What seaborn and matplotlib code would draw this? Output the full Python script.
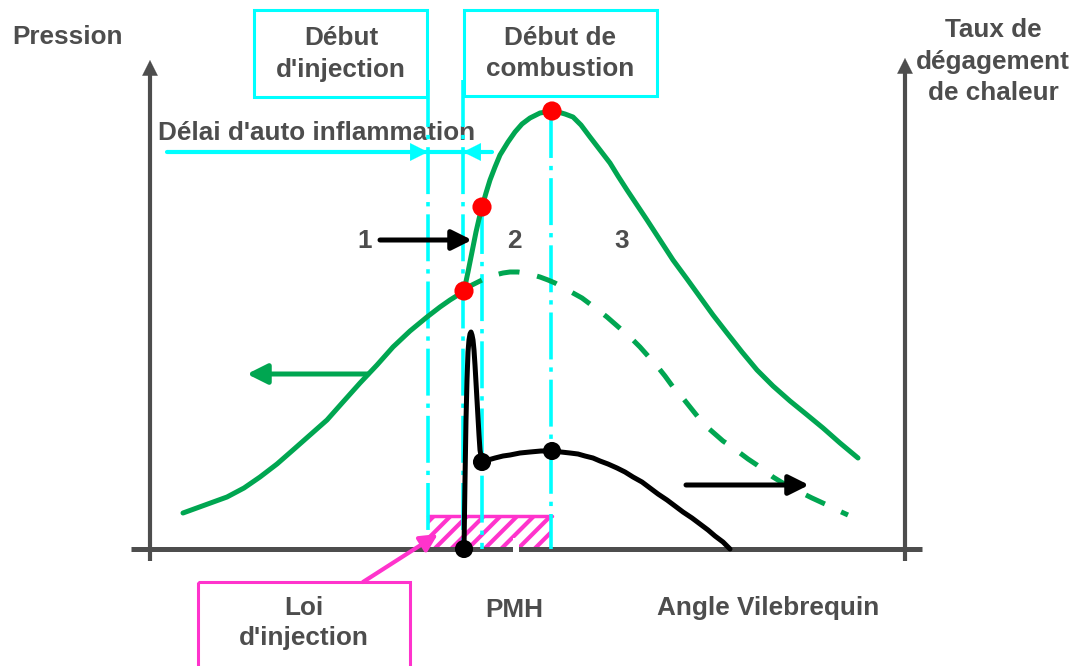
import numpy as np
import pandas as pd
import matplotlib
matplotlib.use("Agg")
import matplotlib.pyplot as plt
from matplotlib.patches import Rectangle
import seaborn as sns

# ---------------- data (schematic, pixel units) ----------------
# pressure with combustion (solid green)
press_x = [183, 205, 227, 244, 260, 277, 293, 310, 327, 343, 360, 377, 393, 410, 427, 440, 450, 458, 464,
           468, 472, 476, 479, 482, 486, 490, 495, 500, 508, 515, 522, 530, 540, 546, 552,
           558, 565, 573, 581, 590, 600, 610, 618, 627, 637, 647, 660, 673, 687, 700, 713, 727, 742, 757,
           773, 790, 806, 823, 840, 858]
press_y = [513, 505, 497, 488, 477, 464, 450, 435, 420, 402, 383, 365, 347, 331, 317, 307, 300, 295, 291,
           272, 252, 232, 219, 207, 193, 180, 167, 155, 142, 132, 124, 118, 113, 112, 111,
           112, 114, 117, 125, 137, 150, 163, 176, 190, 205, 220, 240, 260, 279, 297, 315, 333, 352, 370,
           386, 401, 414, 428, 443, 458]
# motored pressure (dashed green)
motor_x = [464, 472, 480, 488, 495, 503, 510, 518, 525, 533, 540, 548, 555, 564, 573, 582, 590, 598, 607,
           615, 623, 632, 640, 648, 657, 665, 673, 682, 690, 698, 707, 715, 723, 732, 740, 748, 757, 765,
           773, 786, 800, 812, 825, 837, 848]
motor_y = [291, 285, 281, 277, 275, 273, 272, 272, 273, 275, 277, 280, 283, 288, 293, 298, 304, 310, 317,
           324, 331, 339, 347, 356, 366, 376, 387, 397, 407, 417, 427, 434, 441, 447, 453, 459, 465, 471,
           477, 485, 492, 498, 504, 510, 515]
# heat release rate (black)
heat_x = [464, 465, 466, 467, 468, 469, 470, 471, 472, 473, 474, 475, 477, 479, 480, 482, 488, 495, 503,
          510, 520, 530, 541, 552, 561, 570, 578, 585, 593, 600, 608, 617, 625, 633, 642, 650, 658, 667,
          675, 683, 692, 700, 708, 715, 723, 730]
heat_y = [549, 480, 420, 380, 352, 340, 334, 332, 335, 340, 350, 365, 400, 435, 450, 462, 460, 458, 456,
          455, 453, 452, 451, 451, 452, 453, 454, 456, 458, 461, 464, 468, 472, 477, 482, 488, 494, 500,
          506, 512, 518, 524, 530, 536, 542, 549]
# key points
red_x = [464, 482, 552]
red_y = [291, 207, 111]
blk_x = [464, 482, 552]
blk_y = [549, 462, 451]

# event lines (crank angles) and their top ends
event_x = [428, 463, 482, 551]
event_top = [80, 80, 207, 111]

labels_box1 = ["Début", "d'injection"]
labels_box2 = ["Début de", "combustion"]
labels_right = ["Taux de", "dégagement", "de chaleur"]
labels_box3 = ["Loi", "d'injection"]
phase_labels = ["1", "2", "3"]
phase_x = [365, 514, 622]

# ---------------- style ----------------
GREEN = "#00A651"
CYAN = "#00FFFF"
PINK = "#FF33CC"
GREY = "#4D4D4D"

sns.set_theme(style="white")
plt.rcParams["font.family"] = ["Liberation Sans", "DejaVu Sans"]
plt.rcParams["hatch.linewidth"] = 3.0

fig = plt.figure(figsize=(10.77, 6.66), dpi=100)
ax = fig.add_axes([0, 0, 1, 1])
ax.set_xlim(0, 1077)
ax.set_ylim(666, 0)
ax.axis("off")

FS = 18.8
tk = dict(color=GREY, fontsize=FS, fontweight="bold", ha="center", va="center")

# axes
ax.plot([131, 922], [549, 549], color=GREY, lw=3.6, solid_capstyle="butt", zorder=2)
for xa, top in [(150, 60), (905, 58)]:
    ax.plot([xa, xa], [561, top + 12], color=GREY, lw=3.0, solid_capstyle="butt", zorder=2)
    ax.annotate("", xy=(xa, top), xytext=(xa, top + 16),
                arrowprops=dict(arrowstyle="-|>", color=GREY, lw=0.1, mutation_scale=28,
                                shrinkA=0, shrinkB=0), zorder=2)

# injection law hatched rectangle
ax.add_patch(Rectangle((428, 516), 124, 33, facecolor="white", edgecolor=PINK, hatch="//",
                       lw=0, zorder=1))
ax.plot([428, 552], [516, 516], color=PINK, lw=2.5, zorder=1.5)
# small white notch on axis
ax.add_patch(Rectangle((513, 538), 6, 14, facecolor="white", edgecolor="none", zorder=2.2))

# cyan dash-dot event lines
for ex, et in zip(event_x, event_top):
    ax.plot([ex, ex], [et, 549], color=CYAN, lw=2.6, linestyle=(0, (13, 2.2, 1.2, 2.2)), zorder=3)

# boxes
ax.add_patch(Rectangle((254, 10), 173, 87, fill=False, edgecolor=CYAN, lw=2.2, zorder=3))
ax.add_patch(Rectangle((464, 10), 193, 86, fill=False, edgecolor=CYAN, lw=2.2, zorder=3))
ax.add_patch(Rectangle((198, 582), 212, 100, fill=False, edgecolor=PINK, lw=2.2, zorder=3))

# délai arrow
ax.plot([167, 492], [152, 152], color=CYAN, lw=3, zorder=3)
ax.annotate("", xy=(428, 152), xytext=(405, 152),
            arrowprops=dict(arrowstyle="-|>", color=CYAN, lw=0.1, mutation_scale=32, shrinkA=0, shrinkB=0), zorder=3)
ax.annotate("", xy=(463, 152), xytext=(486, 152),
            arrowprops=dict(arrowstyle="-|>", color=CYAN, lw=0.1, mutation_scale=32, shrinkA=0, shrinkB=0), zorder=3)

# curves
sns.lineplot(x=motor_x, y=motor_y, ax=ax, sort=False, estimator=None, color=GREEN, lw=3.6,
             linestyle=(0, (4.2, 3.6)), zorder=4)
sns.lineplot(x=press_x, y=press_y, ax=ax, sort=False, estimator=None, color=GREEN, lw=3.6, zorder=5)
sns.lineplot(x=heat_x, y=heat_y, ax=ax, sort=False, estimator=None, color="black", lw=3.6, zorder=5)
sns.scatterplot(x=red_x, y=red_y, ax=ax, color="red", s=190, edgecolor="none", zorder=6)
sns.scatterplot(x=blk_x, y=blk_y, ax=ax, color="black", s=170, edgecolor="none", zorder=6)

# arrows
ax.annotate("", xy=(472, 240), xytext=(380, 240),
            arrowprops=dict(arrowstyle="-|>", color="black", lw=3.6, mutation_scale=30, shrinkA=0, shrinkB=0), zorder=6)
ax.annotate("", xy=(247, 374), xytext=(368, 374),
            arrowprops=dict(arrowstyle="-|>", color=GREEN, lw=3.6, mutation_scale=30, shrinkA=0, shrinkB=0), zorder=6)
ax.annotate("", xy=(809, 485), xytext=(686, 485),
            arrowprops=dict(arrowstyle="-|>", color="black", lw=3.6, mutation_scale=30, shrinkA=0, shrinkB=0), zorder=6)
ax.annotate("", xy=(438, 534), xytext=(363, 582),
            arrowprops=dict(arrowstyle="-|>", color=PINK, lw=3.0, mutation_scale=26, shrinkA=0, shrinkB=0), zorder=6)

# texts
ax.text(12, 37, "Pression", **{**tk, "ha": "left"})
for t, y in zip(labels_box1, [38, 70]):
    ax.text(341, y, t, **tk)
for t, y in zip(labels_box2, [38, 69]):
    ax.text(560, y, t, **tk)
for t, y in zip(labels_right, [30, 62, 93]):
    ax.text(993, y, t, **tk)
for t, y in zip(labels_box3, [608, 638]):
    ax.text(304, y, t, **tk)
for t, x in zip(phase_labels, phase_x):
    ax.text(x, 241, t, **tk)
ax.text(317, 133, "Délai d'auto inflammation", **tk, zorder=2)
ax.text(514, 610, "PMH", **tk)
ax.text(768, 608, "Angle Vilebrequin", **tk)

fig.savefig("out.png", dpi=100)
